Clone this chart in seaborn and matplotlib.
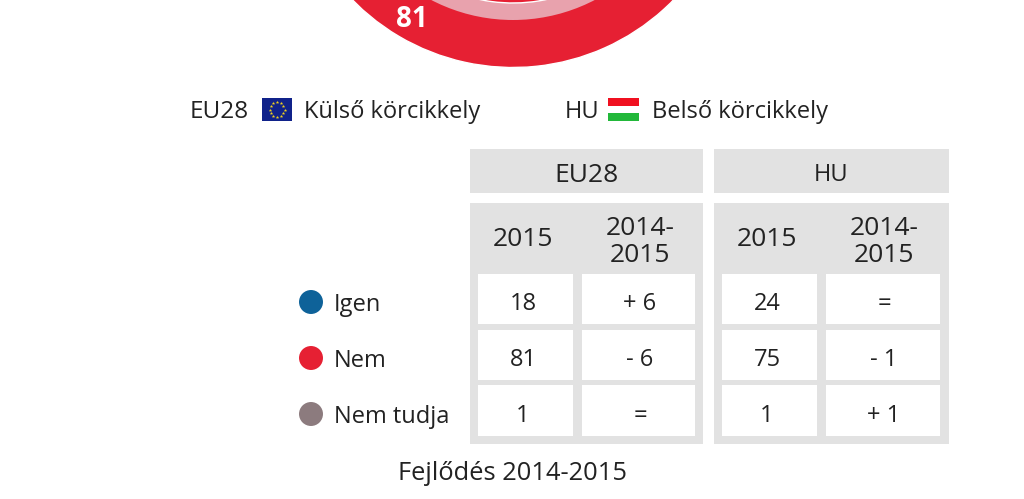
import matplotlib
matplotlib.use("Agg")
import matplotlib.pyplot as plt
from matplotlib.patches import Circle, Rectangle
import numpy as np
import pandas as pd
import seaborn as sns

categories = ["Igen", "Nem", "Nem tudja"]
eu_2015 = [18, 81, 1]
hu_2015 = [24, 75, 1]
eu_change = ["+ 6", "- 6", "="]
hu_change = ["=", "- 1", "+ 1"]
colors = ["#0E6299", "#E62033", "#8C7B7E"]

GREY = "#E2E2E2"
PALE = "#E8A2AD"
INK = "#222222"
FS = 17
HEAD_FS = 19

sns.set_theme(style="white")
plt.rcParams["font.family"] = ["Open Sans", "DejaVu Sans"]

fig = plt.figure(figsize=(10.24, 4.99), dpi=100)
ax = fig.add_axes([0, 0, 1, 1])

# donut sits mostly above the canvas, only the bottom shows
cx, cy = 513, -157
ax.pie(eu_2015, colors=colors, center=(cx, cy), radius=224.5, startangle=270, counterclock=True)
ax.add_patch(Circle((cx, cy), 177, color=PALE, lw=0))
ax.pie(hu_2015, colors=colors, center=(cx, cy), radius=160, startangle=270, counterclock=True)
ax.set_xlim(0, 1024)
ax.set_ylim(499, 0)
ax.set_aspect("auto")
ax.axis("off")

ax.text(412, 19, str(eu_2015[1]), color="white", fontsize=20, fontweight="bold", ha="center", va="center")


def txt(x, y, s, ha="center", size=FS):
    # +2 because the line box leaves digits sitting high
    ax.text(x, y + 2, s, color=INK, fontsize=size, ha=ha, va="center", linespacing=1.13)


def box(x0, x1, y0, y1, color):
    ax.add_patch(Rectangle((x0, y0), x1 - x0, y1 - y0, color=color, lw=0))


# legend row with the two flags
txt(190, 110, "EU28", ha="left", size=17.5)
box(262, 292, 98, 121, "#10228A")
angles = np.arange(12) * np.pi / 6
sns.scatterplot(x=277 + 7.5 * np.cos(angles), y=109.5 + 7.5 * np.sin(angles), ax=ax,
                color="#F2D21E", marker="*", s=7, linewidth=0, legend=False)
txt(304, 110, "Külső körcikkely", ha="left")

txt(565, 110, "HU", ha="left")
box(608, 639, 98, 105.5, "#F01020")
box(608, 639, 113, 121, "#22B83A")
txt(652, 110, "Belső körcikkely", ha="left")

# table
for (x0, x1, name, size) in [(470, 703, "EU28", 19), (714, 949, "HU", 17)]:
    box(x0, x1, 149, 193, GREY)
    box(x0, x1, 203, 444, GREY)
    txt((x0 + x1) / 2, 173, name, size=size)

row_y = [(274, 324), (330, 380), (385, 436)]
columns = [
    (478, 573, 523, "2015", eu_2015),
    (582, 695, 640, "2014-\n2015", eu_change),
    (722, 817, 767, "2015", hu_2015),
    (826, 940, 884, "2014-\n2015", hu_change),
]
for x0, x1, xc, head, vals in columns:
    txt(xc, 238 if head == "2015" else 240, head, size=HEAD_FS)
    for (y0, y1), yc, v in zip(row_y, [302, 358, 414], vals):
        box(x0, x1, y0, y1, "white")
        txt(xc, yc, str(v))

# category dots
dots = pd.DataFrame({"cat": categories, "x": [311, 311, 311], "y": [302, 358, 414]})
sns.scatterplot(data=dots, x="x", y="y", hue="cat", palette=colors, s=298, linewidth=0,
                legend=False, ax=ax, zorder=3)
for cat, y in zip(categories, dots["y"]):
    txt(334, y + 1, cat, ha="left")

txt(512, 471, "Fejlődés 2014-2015", size=18.4)

ax.set_xlim(0, 1024)
ax.set_ylim(499, 0)
ax.set_xlabel("")
ax.set_ylabel("")
fig.savefig("out.png", dpi=100)
